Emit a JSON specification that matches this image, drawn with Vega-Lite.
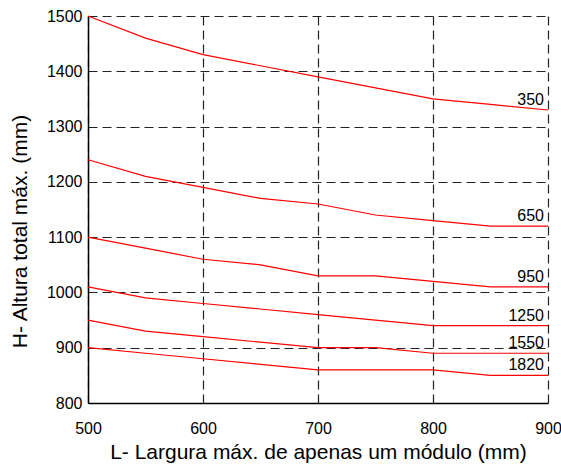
{
  "$schema": "https://vega.github.io/schema/vega-lite/v6.json",
  "width": 460,
  "height": 387,
  "autosize": {"type": "none"},
  "padding": {"left": 88, "top": 16, "right": 13, "bottom": 63},
  "background": "white",
  "config": {
    "font": "Liberation Sans",
    "view": {"stroke": null}
  },
  "data": {
    "values": [
      {"L": 500, "H": 1500, "s": "350"}, {"L": 550, "H": 1460, "s": "350"}, {"L": 600, "H": 1430, "s": "350"}, {"L": 650, "H": 1410, "s": "350"}, {"L": 700, "H": 1390, "s": "350"}, {"L": 750, "H": 1370, "s": "350"}, {"L": 800, "H": 1350, "s": "350"}, {"L": 850, "H": 1340, "s": "350"}, {"L": 900, "H": 1330, "s": "350"},
      {"L": 500, "H": 1240, "s": "650"}, {"L": 550, "H": 1210, "s": "650"}, {"L": 600, "H": 1190, "s": "650"}, {"L": 650, "H": 1170, "s": "650"}, {"L": 700, "H": 1160, "s": "650"}, {"L": 750, "H": 1140, "s": "650"}, {"L": 800, "H": 1130, "s": "650"}, {"L": 850, "H": 1120, "s": "650"}, {"L": 900, "H": 1120, "s": "650"},
      {"L": 500, "H": 1100, "s": "950"}, {"L": 550, "H": 1080, "s": "950"}, {"L": 600, "H": 1060, "s": "950"}, {"L": 650, "H": 1050, "s": "950"}, {"L": 700, "H": 1030, "s": "950"}, {"L": 750, "H": 1030, "s": "950"}, {"L": 800, "H": 1020, "s": "950"}, {"L": 850, "H": 1010, "s": "950"}, {"L": 900, "H": 1010, "s": "950"},
      {"L": 500, "H": 1010, "s": "1250"}, {"L": 550, "H": 990, "s": "1250"}, {"L": 600, "H": 980, "s": "1250"}, {"L": 650, "H": 970, "s": "1250"}, {"L": 700, "H": 960, "s": "1250"}, {"L": 750, "H": 950, "s": "1250"}, {"L": 800, "H": 940, "s": "1250"}, {"L": 850, "H": 940, "s": "1250"}, {"L": 900, "H": 940, "s": "1250"},
      {"L": 500, "H": 950, "s": "1550"}, {"L": 550, "H": 930, "s": "1550"}, {"L": 600, "H": 920, "s": "1550"}, {"L": 650, "H": 910, "s": "1550"}, {"L": 700, "H": 900, "s": "1550"}, {"L": 750, "H": 900, "s": "1550"}, {"L": 800, "H": 890, "s": "1550"}, {"L": 850, "H": 890, "s": "1550"}, {"L": 900, "H": 890, "s": "1550"},
      {"L": 500, "H": 900, "s": "1820"}, {"L": 550, "H": 890, "s": "1820"}, {"L": 600, "H": 880, "s": "1820"}, {"L": 650, "H": 870, "s": "1820"}, {"L": 700, "H": 860, "s": "1820"}, {"L": 750, "H": 860, "s": "1820"}, {"L": 800, "H": 860, "s": "1820"}, {"L": 850, "H": 850, "s": "1820"}, {"L": 900, "H": 850, "s": "1820"}
    ]
  },
  "encoding": {
    "x": {
      "field": "L", "type": "quantitative",
      "scale": {"domain": [500, 900], "nice": false},
      "axis": {
        "values": [500, 600, 700, 800, 900], "format": "d", "labelFlush": false,
        "title": "L- Largura máx. de apenas um módulo (mm)",
        "titleFontSize": 21, "titleFontWeight": "normal", "titleColor": "black",
        "titleBaseline": "alphabetic", "titleY": 55,
        "labelFontSize": 16, "labelColor": "black", "labelPadding": 17,
        "ticks": false, "domainColor": "black", "domainWidth": 1.5,
        "grid": true, "gridColor": "#222", "gridDash": [9, 5], "gridWidth": 1.2, "gridOpacity": 1
      }
    },
    "y": {
      "field": "H", "type": "quantitative",
      "scale": {"domain": [800, 1500], "nice": false, "zero": false},
      "axis": {
        "values": [800, 900, 1000, 1100, 1200, 1300, 1400, 1500], "format": "d", "labelFlush": false,
        "title": "H- Altura total máx. (mm)",
        "titleFontSize": 21, "titleFontWeight": "normal", "titleColor": "black",
        "titleBaseline": "alphabetic", "titleX": -62, "titleY": 215,
        "labelFontSize": 16, "labelColor": "black", "labelPadding": 6,
        "ticks": false, "domainColor": "black", "domainWidth": 1.5,
        "grid": true, "gridColor": "#222", "gridDash": [9, 5], "gridWidth": 1.2, "gridOpacity": 1
      }
    }
  },
  "layer": [
    {
      "mark": {"type": "rule", "color": "#222", "strokeDash": [9, 5], "strokeWidth": 1.2},
      "data": {"values": [{"a": 1}]},
      "encoding": {"x": {"datum": 900, "type": "quantitative"}, "y": {"datum": 800, "type": "quantitative"}, "y2": {"datum": 1500}}
    },
    {
      "mark": {"type": "rule", "color": "#222", "strokeDash": [9, 5], "strokeWidth": 1.2},
      "data": {"values": [{"a": 1}]},
      "encoding": {"y": {"datum": 1500, "type": "quantitative"}, "x": {"datum": 500, "type": "quantitative"}, "x2": {"datum": 900}}
    },
    {
      "mark": {"type": "line", "color": "#ff0000", "strokeWidth": 1.2},
      "encoding": {"detail": {"field": "s"}}
    },
    {
      "transform": [{"filter": "datum.L == 900"}],
      "mark": {"type": "text", "align": "right", "baseline": "alphabetic", "dx": -4, "dy": -5, "fontSize": 16, "color": "black"},
      "encoding": {"text": {"field": "s"}}
    }
  ]
}
